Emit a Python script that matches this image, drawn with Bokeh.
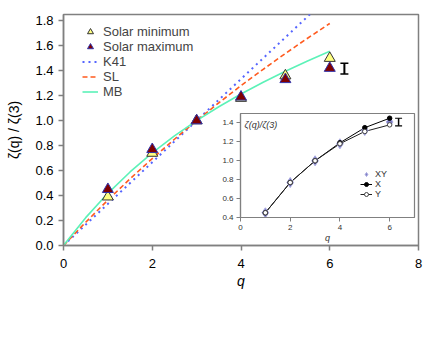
from bokeh.plotting import figure
from bokeh.models import (ColumnDataSource, Whisker, TeeHead, Legend, LegendItem,
                          Range1d, FixedTicker, Label, PrintfTickFormatter)
from bokeh.layouts import column
from bokeh.embed import file_html
from bokeh.resources import INLINE

# ---------------- data ----------------
q_obs = [1, 2, 3, 4, 5, 6]
solar_min = [0.39, 0.74, 1.00, 1.18, 1.36, 1.50]
solar_max = [0.45, 0.77, 1.00, 1.19, 1.33, 1.42]

q_k41 = [0, 6]
k41 = [0.0, 2.0]

q_model = [0, 0.5, 1, 1.5, 2, 2.5, 3, 3.5, 4, 4.5, 5, 5.5, 6]
sl = [0.0, 0.186, 0.364, 0.534, 0.696, 0.851, 1.0, 1.143, 1.280, 1.411, 1.538, 1.660, 1.778]
mb = [0.0, 0.223, 0.418, 0.589, 0.742, 0.878, 1.0, 1.111, 1.213, 1.308, 1.395, 1.478, 1.556]

err_main_x = [6.33]
err_main_y = [1.417]
err_main_half = [0.043]

# inset
q_in = [1, 2, 3, 4, 5, 6]
xy_vals = [0.45, 0.77, 1.00, 1.18, 1.32, 1.41]
x_vals = [0.45, 0.77, 1.00, 1.19, 1.35, 1.45]
y_vals = [0.45, 0.77, 1.00, 1.18, 1.31, 1.38]

err_in_x = [6.36]
err_in_y = [1.41]
err_in_half = [0.04]

FONT = "Liberation Sans"
GRAY = "#808080"

# ---------------- main figure ----------------
p = figure(width=428, height=328, output_backend="svg", toolbar_location=None,
           x_range=Range1d(0, 8), y_range=Range1d(0, 1.85),
           min_border_left=63, min_border_right=10, min_border_top=14, min_border_bottom=83)
p.frame_align = False
p.xgrid.visible = False
p.ygrid.visible = False
p.outline_line_color = GRAY
p.outline_line_width = 1.5
p.background_fill_color = "white"
p.border_fill_color = "white"

for ax in (p.xaxis, p.yaxis):
    ax.axis_line_color = GRAY
    ax.axis_line_width = 1.5
    ax.major_tick_line_color = GRAY
    ax.major_tick_line_width = 1.5
    ax.major_tick_out = 5
    ax.major_tick_in = 0
    ax.minor_tick_line_color = None
    ax.major_label_text_font = FONT
    ax.major_label_text_font_size = "13px"
    ax.major_label_text_color = "black"
    ax.axis_label_text_font = FONT
    ax.axis_label_text_font_size = "14px"
    ax.axis_label_text_color = "black"

p.xaxis.ticker = FixedTicker(ticks=[0, 2, 4, 6, 8])
p.yaxis.ticker = FixedTicker(ticks=[0, 0.2, 0.4, 0.6, 0.8, 1.0, 1.2, 1.4, 1.6, 1.8])
p.yaxis.formatter = PrintfTickFormatter(format="%.1f")
p.xaxis.major_label_standoff = 8
p.yaxis.major_label_standoff = 5
p.xaxis.axis_label = "q"
p.xaxis.axis_label_text_font_style = "italic"
p.xaxis.axis_label_standoff = 2
p.yaxis.axis_label = "ζ(q) / ζ(3)"
p.yaxis.axis_label_text_font_style = "normal"
p.yaxis.axis_label_standoff = 10

r_k41 = p.line(q_k41, k41, line_color="#5565FF", line_width=2, line_dash="2 4")
r_sl = p.line(q_model, sl, line_color="#FF5A1E", line_width=1.6, line_dash="5 3")
r_mb = p.line(q_model, mb, line_color="#5CF2B8", line_width=1.6)

r_min = p.scatter(q_obs, solar_min, marker="triangle", size=11,
                  fill_color="#FFFF80", line_color="#333333", line_width=1)
r_max = p.scatter(q_obs, solar_max, marker="triangle", size=11,
                  fill_color="#800000", line_color="#3333AA", line_width=1)

src_em = ColumnDataSource(dict(x=err_main_x,
                               lo=[y - h for y, h in zip(err_main_y, err_main_half)],
                               hi=[y + h for y, h in zip(err_main_y, err_main_half)]))
p.add_layout(Whisker(source=src_em, base="x", lower="lo", upper="hi", dimension="height",
                     line_color="black", line_width=2,
                     upper_head=TeeHead(size=8, line_color="black", line_width=1.5),
                     lower_head=TeeHead(size=8, line_color="black", line_width=1.5)))

leg = Legend(items=[LegendItem(label="Solar minimum", renderers=[r_min]),
                    LegendItem(label="Solar maximum", renderers=[r_max]),
                    LegendItem(label="K41", renderers=[r_k41]),
                    LegendItem(label="SL", renderers=[r_sl]),
                    LegendItem(label="MB", renderers=[r_mb])],
             location=(19, 146), padding=0, margin=0, spacing=0,
             label_height=15, glyph_height=15, glyph_width=16, label_standoff=5,
             label_text_font=FONT, label_text_font_size="13px",
             border_line_color=None, background_fill_alpha=0)
p.add_layout(leg)

# ---------------- inset figure ----------------
ins = figure(width=208, height=137, output_backend="svg", toolbar_location=None,
             x_range=Range1d(0, 7), y_range=Range1d(0.4, 1.5),
             min_border_left=30, min_border_right=4, min_border_top=5, min_border_bottom=28)
ins.frame_align = False
ins.xgrid.visible = False
ins.ygrid.visible = False
ins.outline_line_color = GRAY
ins.outline_line_width = 1.2
ins.background_fill_color = "white"
ins.border_fill_alpha = 0
ins.border_fill_color = None

for ax in (ins.xaxis, ins.yaxis):
    ax.axis_line_color = GRAY
    ax.axis_line_width = 1.2
    ax.major_tick_line_color = GRAY
    ax.major_tick_out = 4
    ax.major_tick_in = 0
    ax.minor_tick_line_color = None
    ax.major_label_text_font = FONT
    ax.major_label_text_font_size = "8px"
    ax.major_label_text_color = "#333333"
    ax.major_label_standoff = 3
    ax.axis_label_text_font = FONT
    ax.axis_label_text_font_size = "9px"
    ax.axis_label_text_color = "#333333"

ins.xaxis.ticker = FixedTicker(ticks=[0, 2, 4, 6])
ins.yaxis.ticker = FixedTicker(ticks=[0.4, 0.6, 0.8, 1.0, 1.2, 1.4])
ins.yaxis.formatter = PrintfTickFormatter(format="%.1f")
ins.xaxis.axis_label = "q"
ins.xaxis.axis_label_text_font_style = "italic"
ins.xaxis.axis_label_standoff = 0

rx_line = ins.line(q_in, x_vals, line_color="black", line_width=1)
ry_line = ins.line(q_in, y_vals, line_color="#222222", line_width=1)
r_xy = ins.scatter(q_in, xy_vals, marker="diamond", size=10,
                   fill_color="#7C7CC4", line_color="#A8A8E0", line_width=1)
r_x = ins.scatter(q_in, x_vals, marker="circle", size=4.5,
                  fill_color="black", line_color="black")
r_y = ins.scatter(q_in, y_vals, marker="circle", size=4.5,
                  fill_color="white", line_color="#444444", line_width=1)

src_ei = ColumnDataSource(dict(x=err_in_x,
                               lo=[y - h for y, h in zip(err_in_y, err_in_half)],
                               hi=[y + h for y, h in zip(err_in_y, err_in_half)]))
ins.add_layout(Whisker(source=src_ei, base="x", lower="lo", upper="hi", dimension="height",
                       line_color="black", line_width=1.5,
                       upper_head=TeeHead(size=7, line_color="black", line_width=1.2),
                       lower_head=TeeHead(size=7, line_color="black", line_width=1.2)))

ins.add_layout(Label(x=4, y=88, x_units="screen", y_units="screen",
                     text="ζ(q)/ζ(3)", text_font=FONT, text_font_size="9px",
                     text_font_style="italic", text_color="#333333"))

leg2 = Legend(items=[LegendItem(label="XY", renderers=[r_xy]),
                     LegendItem(label="X", renderers=[rx_line, r_x]),
                     LegendItem(label="Y", renderers=[ry_line, r_y])],
              location=(120, 18), padding=0, margin=0, spacing=0,
              label_height=10, glyph_height=10, glyph_width=12, label_standoff=3,
              label_text_font=FONT, label_text_font_size="9px", label_text_color="#333333",
              border_line_color=None, background_fill_alpha=0)
ins.add_layout(leg2)

ins.styles = {"position": "absolute", "left": "210px", "top": "108px"}

layout = column(p, ins, styles={"position": "relative"})

open("out.html", "w").write(file_html(layout, INLINE))
